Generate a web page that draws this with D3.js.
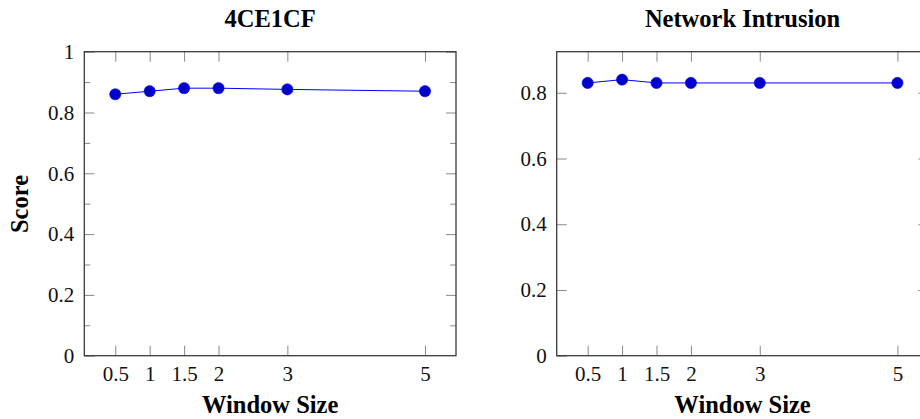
<!DOCTYPE html>
<html>
<head>
<meta charset="utf-8">
<script src="https://cdn.jsdelivr.net/npm/d3@7"></script>
<style>
  html, body { margin: 0; padding: 0; background: #fff; }
  svg { display: block; }
</style>
</head>
<body>
<svg id="chart" width="920" height="419"></svg>
<script>
// ---- data ----
const windowSizes = [0.5, 1, 1.5, 2, 3, 5];
const scores4CE1CF = [0.86, 0.87, 0.88, 0.88, 0.876, 0.87];
const scoresNetworkIntrusion = [0.83, 0.84, 0.83, 0.83, 0.83, 0.83];
const xTickValues = [0.5, 1, 1.5, 2, 3, 5];
const yTicksLeft = [0, 0.2, 0.4, 0.6, 0.8, 1];
const yMinorTicksLeft = [0.1, 0.3, 0.5, 0.7, 0.9];
const yTicksRight = [0, 0.2, 0.4, 0.6, 0.8];
const panelTitles = ["4CE1CF", "Network Intrusion"];
const xAxisTitle = "Window Size";
const yAxisTitle = "Score";

// ---- layout ----
const svg = d3.select("#chart");
const plotW = 371.7, plotTop = 51.7, plotBottom = 355.7;
const panels = [
  { left: 84.3, title: panelTitles[0], values: scores4CE1CF, yMax: 1, yTicks: yTicksLeft, yMinor: yMinorTicksLeft, yLabel: true },
  { left: 556.7, title: panelTitles[1], values: scoresNetworkIntrusion, yMax: 0.925, yTicks: yTicksRight, yMinor: [], yLabel: false }
];

const fmt = d => (d === 0 || d === 1) ? String(d) : d3.format(".1f")(d);
const tickFont = "'Liberation Serif', 'Times New Roman', serif";
const titleFont = "'Liberation Serif', 'Times New Roman', serif";

panels.forEach(p => {
  const x = d3.scaleLinear().domain([0.05, 5.45]).range([p.left, p.left + plotW]);
  const y = d3.scaleLinear().domain([0, p.yMax]).range([plotBottom, plotTop]);
  const g = svg.append("g");

  const styleAxis = (sel, labels) => {
    sel.select(".domain").remove();
    sel.selectAll(".tick line").attr("stroke", "#8a8a8a").attr("stroke-width", 1);
    sel.selectAll(".tick text")
      .attr("fill", "#111")
      .style("font-family", tickFont)
      .style("font-size", "21px");
    if (!labels) sel.selectAll(".tick text").remove();
  };

  // minor y ticks
  if (p.yMinor.length) {
    g.append("g").attr("transform", `translate(${p.left},0)`)
      .call(d3.axisLeft(y).tickValues(p.yMinor).tickSize(-6).tickFormat(""))
      .call(s => styleAxis(s, false));
    g.append("g").attr("transform", `translate(${p.left + plotW},0)`)
      .call(d3.axisRight(y).tickValues(p.yMinor).tickSize(-6).tickFormat(""))
      .call(s => styleAxis(s, false));
  }
  // major y ticks
  g.append("g").attr("transform", `translate(${p.left},0)`)
    .call(d3.axisLeft(y).tickValues(p.yTicks).tickSize(-10).tickPadding(10).tickFormat(fmt))
    .call(s => styleAxis(s, true));
  g.append("g").attr("transform", `translate(${p.left + plotW},0)`)
    .call(d3.axisRight(y).tickValues(p.yTicks.filter(v => v > 0)).tickSize(-10).tickFormat(""))
    .call(s => styleAxis(s, false));
  // x ticks
  g.append("g").attr("transform", `translate(0,${plotBottom})`)
    .call(d3.axisBottom(x).tickValues(xTickValues).tickSize(-10).tickPadding(10).tickFormat(d3.format("")))
    .call(s => styleAxis(s, true));
  g.append("g").attr("transform", `translate(0,${plotTop})`)
    .call(d3.axisTop(x).tickValues(xTickValues).tickSize(-10).tickFormat(""))
    .call(s => styleAxis(s, false));

  // frame
  g.append("rect")
    .attr("x", p.left).attr("y", plotTop)
    .attr("width", plotW).attr("height", plotBottom - plotTop)
    .attr("fill", "none").attr("stroke", "#3a3a3a").attr("stroke-width", 1.3);

  // line + markers
  const pts = windowSizes.map((w, i) => [w, p.values[i]]);
  g.append("path")
    .datum(pts)
    .attr("fill", "none")
    .attr("stroke", "#0000ff")
    .attr("stroke-width", 1)
    .attr("d", d3.line().x(d => x(d[0])).y(d => y(d[1])));
  g.selectAll("circle.pt").data(pts).enter().append("circle")
    .attr("class", "pt")
    .attr("cx", d => x(d[0])).attr("cy", d => y(d[1]))
    .attr("r", 5.6)
    .attr("fill", "#0000cc")
    .attr("stroke", "#0000e6").attr("stroke-width", 0.6);

  // title
  g.append("text")
    .attr("x", p.left + plotW / 2).attr("y", 27)
    .attr("text-anchor", "middle")
    .style("font-family", titleFont).style("font-weight", "bold").style("font-size", "24.5px")
    .attr("fill", "#000")
    .text(p.title);

  // x axis title
  g.append("text")
    .attr("x", p.left + plotW / 2).attr("y", 413)
    .attr("text-anchor", "middle")
    .style("font-family", titleFont).style("font-weight", "bold").style("font-size", "24.5px")
    .attr("fill", "#000")
    .text(xAxisTitle);

  if (p.yLabel) {
    g.append("text")
      .attr("transform", `translate(28,204) rotate(-90)`)
      .attr("text-anchor", "middle")
      .style("font-family", titleFont).style("font-weight", "bold").style("font-size", "24.5px")
      .attr("fill", "#000")
      .text(yAxisTitle);
  }
});
</script>
</body>
</html>
